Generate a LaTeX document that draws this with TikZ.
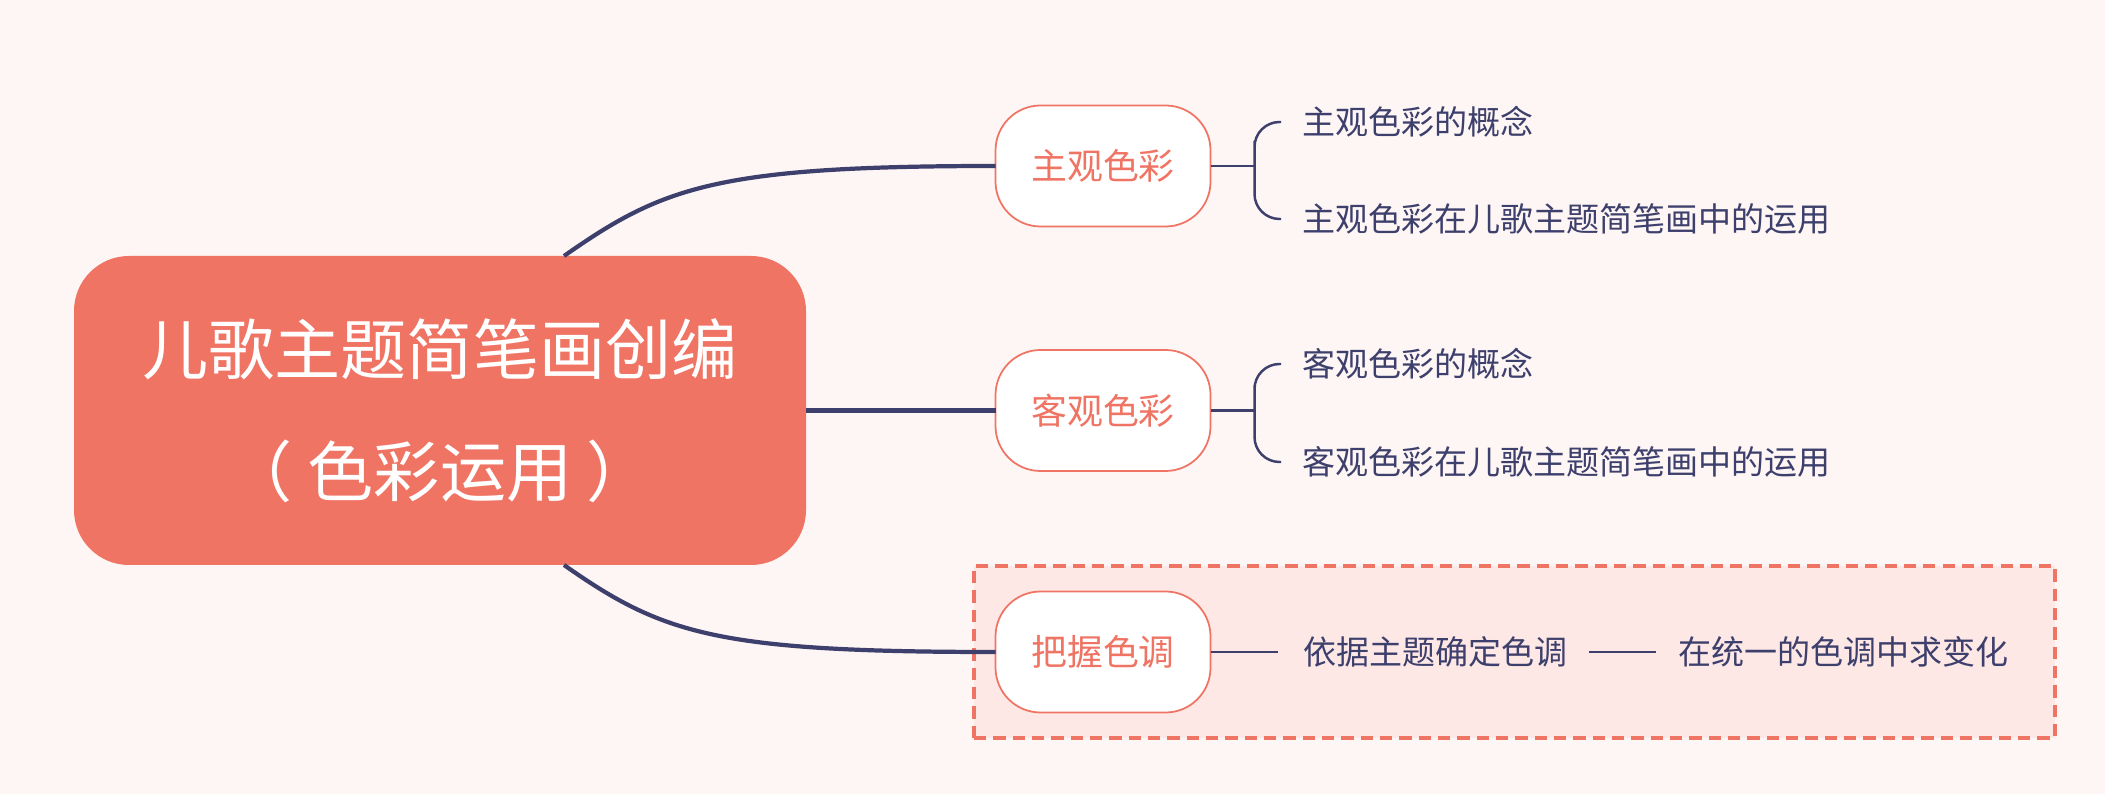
\documentclass[tikz,border=0pt]{standalone}
\usepackage{fontspec}
\setmainfont{Noto Sans CJK SC}
\usepackage{xcolor}
\usepackage{tikz}
\usetikzlibrary{calc,positioning}

\definecolor{bgpink}{HTML}{FEF6F4}
\definecolor{salmon}{HTML}{F07464}
\definecolor{navy}{HTML}{3D3F6C}
\definecolor{boxpink}{HTML}{FDE8E5}

\begin{document}
\begin{tikzpicture}
[every node/.style={inner sep=0pt,outer sep=0pt},
	root/.style={fill=salmon,text=white,rounded corners=0.55cm,minimum width=7.32cm,
		minimum height=3.09cm,align=center,font=\fontsize{18.8pt}{34.6pt}\selectfont},
	branch/.style={draw=salmon,line width=0.5pt,fill=white,text=salmon,rounded corners=0.45cm,
		minimum width=2.15cm,minimum height=1.21cm,font=\fontsize{10.2pt}{12pt}\selectfont},
	leaf/.style={anchor=west,text=navy,font=\fontsize{9.4pt}{11pt}\selectfont},
	link/.style={draw=navy,line width=1.2pt},
	twig/.style={draw=navy,line width=0.7pt}]

% canvas and highlight box
\fill[bgpink] (0,0) rectangle (21.05,7.94);
\draw[salmon,fill=boxpink,line width=0.9pt,dash pattern=on 3.5pt off 2pt]
	(9.74,0.56) rectangle (20.55,2.28);

\node[root] (root) at (4.40,3.835) {儿歌主题简笔画创编\\（ 色彩运用 ）};
\node[branch] (b1) at (11.03,6.28) {主观色彩};
\node[branch] (b2) at (11.03,3.835) {客观色彩};
\node[branch] (b3) at (11.03,1.42) {把握色调};

\node[leaf] (i11) at (13.02,6.72) {主观色彩的概念};
\node[leaf] (i12) at (13.02,5.75) {主观色彩在儿歌主题简笔画中的运用};
\node[leaf] (i21) at (13.02,4.30) {客观色彩的概念};
\node[leaf] (i22) at (13.02,3.32) {客观色彩在儿歌主题简笔画中的运用};
\node[leaf] (i31) at (13.03,1.42) {依据主题确定色调};
\node[leaf] (i32) at (16.78,1.42) {在统一的色调中求变化};

\draw[link] ([xshift=12.4mm]root.north) .. controls +(35:1.2) and +(180:2.8) .. (b1.west);
\draw[link] (root.east) -- (b2.west);
\draw[link] ([xshift=12.4mm]root.south) .. controls +(-35:1.2) and +(180:2.8) .. (b3.west);

\foreach \b/\u/\l in {b1/i11/i12,b2/i21/i22}
{
	\draw[twig] (\b.east) -- ++(0.44,0) coordinate (brc);
	\draw[twig,rounded corners=2.5mm] ([xshift=-2.1mm]\u.west) -| (brc) |- ([xshift=-2.1mm]\l.west);
}
\draw[twig] (b3.east) -- ([xshift=-2.5mm]i31.west);
\draw[twig] ([xshift=2.2mm]i31.east) -- ([xshift=-2.2mm]i32.west);
\end{tikzpicture}
\end{document}
